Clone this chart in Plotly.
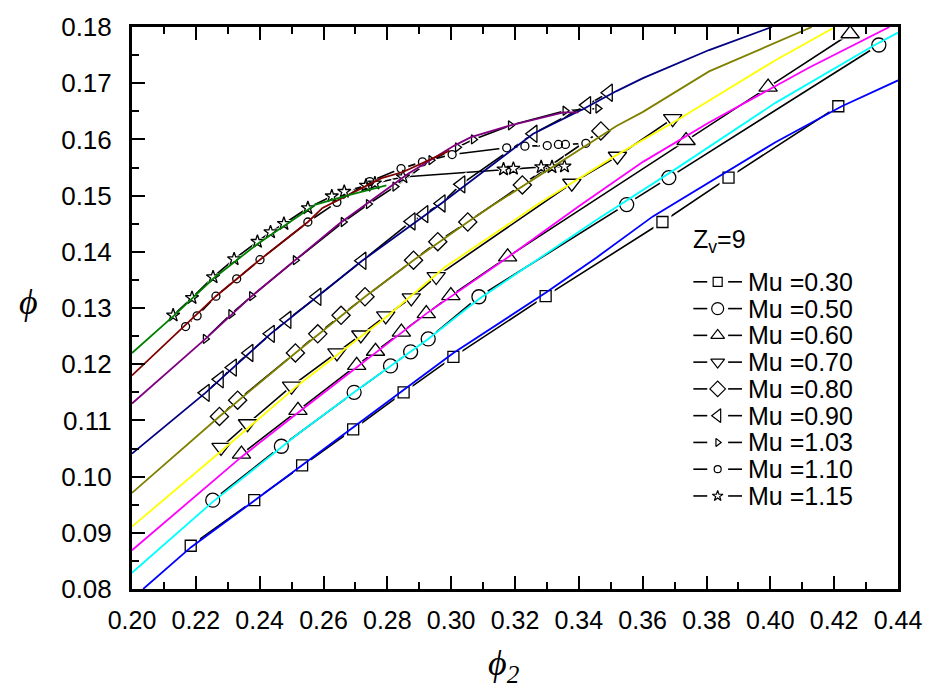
import plotly.graph_objects as go

# ---------------- data ----------------
mu_labels = ["Mu =0.30", "Mu =0.50", "Mu =0.60", "Mu =0.70", "Mu =0.80",
             "Mu =0.90", "Mu =1.03", "Mu =1.10", "Mu =1.15"]
legend_title = "Z<sub>v</sub>=9"

# measured points (black line + open symbols)
x_030 = [0.2184, 0.2383, 0.2533, 0.2693, 0.2851, 0.3007, 0.3296, 0.3662, 0.3869, 0.4213]
y_030 = [0.0877, 0.0958, 0.1020, 0.1084, 0.1150, 0.1213, 0.1321, 0.1453, 0.1532, 0.1659]

x_050 = [0.2253, 0.2468, 0.2696, 0.2810, 0.2873, 0.2928, 0.3087, 0.3550, 0.3682, 0.4340]
y_050 = [0.0958, 0.1054, 0.1150, 0.1197, 0.1222, 0.1245, 0.1320, 0.1484, 0.1532, 0.1768]

x_060 = [0.2343, 0.2520, 0.2704, 0.2763, 0.2844, 0.2922, 0.2999, 0.3177, 0.3736, 0.3993, 0.4250]
y_060 = [0.1040, 0.1118, 0.1198, 0.1223, 0.1257, 0.1290, 0.1322, 0.1391, 0.1598, 0.1693, 0.1788]

x_070 = [0.2279, 0.2362, 0.2500, 0.2642, 0.2717, 0.2795, 0.2875, 0.2953, 0.3378, 0.3521, 0.3694]
y_070 = [0.1052, 0.1094, 0.1161, 0.1220, 0.1252, 0.1286, 0.1318, 0.1356, 0.1522, 0.1570, 0.1637]

x_080 = [0.2274, 0.2331, 0.2512, 0.2582, 0.2655, 0.2730, 0.2882, 0.2958, 0.3052, 0.3223, 0.3469]
y_080 = [0.1107, 0.1136, 0.1220, 0.1254, 0.1287, 0.1320, 0.1385, 0.1418, 0.1453, 0.1519, 0.1615]

x_090 = [0.2230, 0.2274, 0.2315, 0.2367, 0.2434, 0.2486, 0.2580, 0.2721, 0.2875, 0.2915,
         0.2969, 0.3031, 0.3257, 0.3425, 0.3493]
y_090 = [0.1149, 0.1173, 0.1194, 0.1220, 0.1254, 0.1279, 0.1320, 0.1384, 0.1454, 0.1467,
         0.1486, 0.1520, 0.1610, 0.1661, 0.1683]

x_103 = [0.2230, 0.2310, 0.2375, 0.2512, 0.2662, 0.2741, 0.2824, 0.2937, 0.3020, 0.3070,
         0.3186, 0.3357, 0.3460]
y_103 = [0.1245, 0.1289, 0.1321, 0.1385, 0.1453, 0.1485, 0.1516, 0.1563, 0.1586, 0.1600,
         0.1625, 0.1651, 0.1655]

x_110 = [0.2168, 0.2204, 0.2263, 0.2328, 0.2401, 0.2551, 0.2642, 0.2745, 0.2843, 0.2910,
         0.3003, 0.3174, 0.3231, 0.3301, 0.3336, 0.3358, 0.3422]
y_110 = [0.1267, 0.1286, 0.1321, 0.1352, 0.1386, 0.1453, 0.1488, 0.1525, 0.1548, 0.1560,
         0.1573, 0.1585, 0.1588, 0.1589, 0.1591, 0.1591, 0.1593]

x_115 = [0.2129, 0.2188, 0.2254, 0.2320, 0.2393, 0.2434, 0.2476, 0.2551, 0.2626, 0.2665,
         0.2733, 0.2761, 0.2849, 0.3164, 0.3195, 0.3282, 0.3316, 0.3355]
y_115 = [0.1287, 0.1318, 0.1355, 0.1387, 0.1418, 0.1435, 0.1450, 0.1478, 0.1499, 0.1507,
         0.1518, 0.1522, 0.1533, 0.1547, 0.1548, 0.1551, 0.1551, 0.1552]

# computed curves (coloured lines)
cx_030 = [0.2035, 0.2184, 0.2383, 0.2590, 0.2851, 0.3007, 0.3296, 0.3456, 0.3632, 0.3860, 0.4016, 0.4224, 0.4400]
cy_030 = [0.0800, 0.0874, 0.0957, 0.1044, 0.1155, 0.1220, 0.1327, 0.1390, 0.1463, 0.1542, 0.1595, 0.1659, 0.1705]

cx_050 = [0.2000, 0.2253, 0.2523, 0.2696, 0.2928, 0.3087, 0.3456, 0.3705, 0.4016, 0.4327, 0.4400]
cy_050 = [0.0829, 0.0955, 0.1077, 0.1150, 0.1245, 0.1316, 0.1457, 0.1548, 0.1665, 0.1768, 0.1790]

cx_060 = [0.2000, 0.2343, 0.2523, 0.2704, 0.2922, 0.3177, 0.3400, 0.3601, 0.3808, 0.4119, 0.4373]
cy_060 = [0.0869, 0.1035, 0.1115, 0.1195, 0.1290, 0.1390, 0.1481, 0.1560, 0.1630, 0.1727, 0.1800]

cx_070 = [0.2000, 0.2279, 0.2523, 0.2795, 0.2979, 0.3270, 0.3518, 0.3705, 0.4016, 0.4203]
cy_070 = [0.0911, 0.1045, 0.1164, 0.1283, 0.1372, 0.1484, 0.1572, 0.1633, 0.1741, 0.1800]

cx_080 = [0.2000, 0.2274, 0.2512, 0.2730, 0.2882, 0.3052, 0.3134, 0.3518, 0.3601, 0.3808, 0.4130]
cy_080 = [0.0971, 0.1107, 0.1220, 0.1320, 0.1385, 0.1453, 0.1484, 0.1624, 0.1649, 0.1721, 0.1800]

cx_090 = [0.2000, 0.2230, 0.2434, 0.2580, 0.2721, 0.2969, 0.3257, 0.3414, 0.3518, 0.3601, 0.3808, 0.4005]
cy_090 = [0.1041, 0.1149, 0.1254, 0.1320, 0.1384, 0.1486, 0.1610, 0.1654, 0.1686, 0.1709, 0.1759, 0.1800]

cx_103 = [0.2000, 0.2230, 0.2375, 0.2512, 0.2647, 0.2865, 0.3010, 0.3062, 0.3186, 0.3352, 0.3399]
cy_103 = [0.1130, 0.1245, 0.1321, 0.1385, 0.1449, 0.1539, 0.1589, 0.1604, 0.1625, 0.1648, 0.1648]

cx_110 = [0.2000, 0.2263, 0.2401, 0.2551, 0.2597, 0.2678, 0.2782, 0.2849, 0.2995]
cy_110 = [0.1180, 0.1321, 0.1386, 0.1453, 0.1478, 0.1501, 0.1531, 0.1542, 0.1580]

cx_115 = [0.2000, 0.2129, 0.2254, 0.2393, 0.2482, 0.2575, 0.2688, 0.2797]
cy_115 = [0.1220, 0.1285, 0.1352, 0.1414, 0.1448, 0.1484, 0.1502, 0.1518]

x_ticks = [0.20, 0.22, 0.24, 0.26, 0.28, 0.30, 0.32, 0.34, 0.36, 0.38, 0.40, 0.42, 0.44]
y_ticks = [0.08, 0.09, 0.10, 0.11, 0.12, 0.13, 0.14, 0.15, 0.16, 0.17, 0.18]

# ---------------- styling ----------------
series = [
    (x_030, y_030, cx_030, cy_030, "square", 11, "#0000FF"),
    (x_050, y_050, cx_050, cy_050, "circle", 14, "#00FFFF"),
    (x_060, y_060, cx_060, cy_060, "triangle-up", 16, "#FF00FF"),
    (x_070, y_070, cx_070, cy_070, "triangle-down", 16, "#FFFF00"),
    (x_080, y_080, cx_080, cy_080, "diamond", 14, "#808000"),
    (x_090, y_090, cx_090, cy_090, "triangle-left", 15, "#000080"),
    (x_103, y_103, cx_103, cy_103, "triangle-right", 8, "#800080"),
    (x_110, y_110, cx_110, cy_110, "circle", 8, "#800000"),
    (x_115, y_115, cx_115, cy_115, "star", 10, "#008000"),
]
legend_sizes = [9, 12, 12, 12, 12, 12, 7, 7, 8]

fig = go.Figure()

for (xs, ys, cxs, cys, sym, sz, col) in series:
    fig.add_trace(go.Scatter(x=xs, y=ys, mode="lines", line=dict(color="black", width=1.6),
                             showlegend=False, hoverinfo="skip"))
for (xs, ys, cxs, cys, sym, sz, col) in series:
    fig.add_trace(go.Scatter(x=xs, y=ys, mode="markers",
                             marker=dict(symbol=sym, size=sz + 7, color="white", line=dict(width=0)),
                             showlegend=False, hoverinfo="skip"))
for (xs, ys, cxs, cys, sym, sz, col), lab in zip(series, mu_labels):
    fig.add_trace(go.Scatter(x=xs, y=ys, mode="markers", name=lab,
                             marker=dict(symbol=sym + "-open", size=sz, color="black",
                                         line=dict(width=1.3, color="black")),
                             showlegend=False))
for (xs, ys, cxs, cys, sym, sz, col) in series:
    fig.add_trace(go.Scatter(x=cxs, y=cys, mode="lines", line=dict(color=col, width=1.8),
                             showlegend=False, hoverinfo="skip"))

# ---------------- hand-made legend (in an overlay 0..1 frame) ----------------
PL, PR, PT, PB = 132, 903, 20, 589
def px(v):
    return (v - PL) / (PR - PL)
def py(v):
    return 1 - (v - PT) / (PB - PT)

row_y = [278 + 27.1 * i for i in range(len(mu_labels))]
shapes = []
annotations = []
for i, ((xs, ys, cxs, cys, sym, sz, col), lab) in enumerate(zip(series, mu_labels)):
    yy = py(row_y[i])
    shapes.append(dict(type="line", xref="paper", yref="paper", x0=px(697), x1=px(711),
                       y0=yy, y1=yy, line=dict(color="black", width=1.6)))
    shapes.append(dict(type="line", xref="paper", yref="paper", x0=px(732), x1=px(746),
                       y0=yy, y1=yy, line=dict(color="black", width=1.6)))
    fig.add_trace(go.Scatter(x=[px(721.5)], y=[yy], xaxis="x2", yaxis="y2", mode="markers",
                             marker=dict(symbol=sym + "-open", size=legend_sizes[i], color="black",
                                         line=dict(width=1.2, color="black")),
                             showlegend=False, hoverinfo="skip"))
    annotations.append(dict(text=lab, x=px(750), y=yy, xref="paper", yref="paper",
                            xanchor="left", yanchor="middle", showarrow=False,
                            font=dict(family="Arial, Liberation Sans", size=25, color="black")))
annotations.append(dict(text=legend_title, x=px(695), y=py(237), xref="paper", yref="paper",
                        xanchor="left", yanchor="middle", showarrow=False,
                        font=dict(family="Arial, Liberation Sans", size=25, color="black")))
annotations.append(dict(text="<i>ϕ</i>", x=px(28), y=py(298), xref="paper", yref="paper",
                        xanchor="center", yanchor="middle", showarrow=False,
                        font=dict(family="Liberation Serif, Times New Roman", size=36, color="black")))
annotations.append(dict(text="<i>ϕ</i><sub><i>2</i></sub>", x=px(506), y=py(666), xref="paper", yref="paper",
                        xanchor="center", yanchor="middle", showarrow=False,
                        font=dict(family="Liberation Serif, Times New Roman", size=36, color="black")))

fig.update_layout(
    width=934, height=690,
    margin=dict(l=132, r=31, t=20, b=101),
    paper_bgcolor="white", plot_bgcolor="white",
    font=dict(family="Arial, Liberation Sans", color="black"),
    showlegend=False,
    shapes=shapes,
    annotations=annotations,
    xaxis=dict(range=[0.20, 0.44], tickvals=x_ticks, tickformat=".2f",
               ticks="inside", ticklen=13, tickwidth=2, tickcolor="black",
               showline=True, linewidth=3, linecolor="black", mirror="ticks",
               showgrid=False, zeroline=False,
               tickfont=dict(family="Liberation Sans Narrow, Arial Narrow, Arial", size=25),
               ticklabelstandoff=7,
               minor=dict(dtick=0.01, ticks="inside", ticklen=7, tickwidth=2, tickcolor="black",
                          showgrid=False)),
    yaxis=dict(range=[0.08, 0.18], tickvals=y_ticks, tickformat=".2f",
               ticks="inside", ticklen=13, tickwidth=2, tickcolor="black",
               showline=True, linewidth=3, linecolor="black", mirror=True,
               showgrid=False, zeroline=False,
               tickfont=dict(family="Arial, Liberation Sans", size=26), ticklabelstandoff=12,
               minor=dict(dtick=0.005, ticks="inside", ticklen=7, tickwidth=2, tickcolor="black",
                          showgrid=False)),
    xaxis2=dict(range=[0, 1], overlaying="x", visible=False, fixedrange=True),
    yaxis2=dict(range=[0, 1], overlaying="y", visible=False, fixedrange=True),
)

fig.write_html("out.html")
